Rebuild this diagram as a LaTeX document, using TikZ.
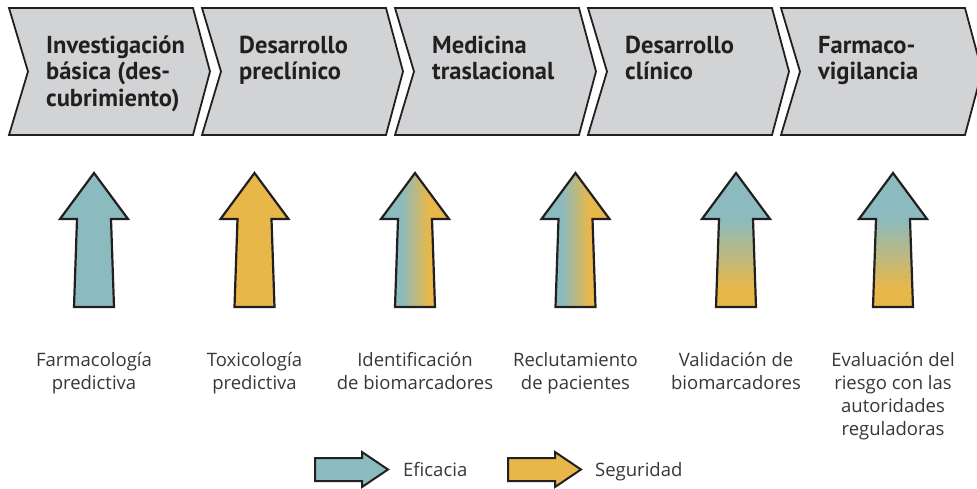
\documentclass[tikz,border=0pt]{standalone}
\usepackage{fontspec}
\setmainfont{Open Sans}
\newfontfamily\headfont{PT Sans}

\definecolor{efteal}{RGB}{139,187,190}
\definecolor{sggold}{RGB}{232,183,74}
\definecolor{stagegray}{RGB}{209,211,212}
\definecolor{inkdark}{RGB}{35,31,32}
\definecolor{labelgray}{RGB}{55,55,55}

\pgfdeclarehorizontalshading{tealonly}{100bp}{color(0bp)=(efteal); color(100bp)=(efteal)}
\pgfdeclarehorizontalshading{goldonly}{100bp}{color(0bp)=(sggold); color(100bp)=(sggold)}
\pgfdeclarehorizontalshading{tealgold}{100bp}{color(0bp)=(efteal); color(40bp)=(efteal);
  color(60bp)=(sggold); color(100bp)=(sggold)}
\pgfdeclareverticalshading{goldteal}{100bp}{color(0bp)=(sggold); color(32bp)=(sggold);
  color(58bp)=(efteal); color(100bp)=(efteal)}

\tikzset{
  stage/.style={draw=inkdark, line width=1.8pt, fill=stagegray, line join=miter},
  stagetext/.style={anchor=base west, align=left, inner sep=0pt, text=inkdark,
    font=\headfont\bfseries\fontsize{24.5}{26.5}\selectfont},
  bigarrow/.style={draw=inkdark, line width=2.2pt, line join=miter},
  tasktext/.style={anchor=base, align=center, inner sep=0pt, text=labelgray,
    font=\fontsize{18.5}{23.3}\selectfont},
  legendtext/.style={anchor=base west, inner sep=0pt, text=labelgray,
    font=\fontsize{18.5}{20}\selectfont},
}

\begin{document}
\begin{tikzpicture}[x=1pt, y=-1pt]
  \useasboundingbox (0,0) rectangle (977,488);
  % -- stages (\nl = number of lines, the node sits on its last baseline)
  \foreach\k/\nl/\txt in {0/3/{Investigación\\básica (des-\\cubrimiento)},
                          1/2/{Desarrollo\\preclínico},
                          2/2/{Medicina\\traslacional},
                          3/2/{Desarrollo\\clínico},
                          4/2/{Farmaco-\\vigilancia}} {
    \pgfmathsetmacro\x{9 + 193 * \k}
    \pgfmathsetmacro\y{53 + 26.5 * (\nl - 1)}
    \draw[stage] (\x, 8) -- ++(184, 0) -- ++(17, 63.5) -- ++(-17, 63.5) --
        ++(-184, 0) -- ++(19, -63.5) -- cycle;
    \node[stagetext] (s\k) at (\x + 37, \y) {\txt};
  }

  % -- arrows and what they stand for
  \foreach\i/\c/\sh/\nl/\txt in {1/94/tealonly/2/{Farmacología\\predictiva},
                                 2/254.5/goldonly/2/{Toxicología\\predictiva},
                                 3/415/tealgold/2/{Identificación\\de biomarcadores},
                                 4/575.5/tealgold/2/{Reclutamiento\\de pacientes},
                                 5/736/goldteal/2/{Validación de\\biomarcadores},
                                 6/893/goldteal/4/{Evaluación del\\riesgo con las\\autoridades\\reguladoras}} {
    \pgfmathsetmacro\y{366 + 23.3 * (\nl - 1)}
    \shade[bigarrow, shading=\sh] (\c - 20, 307) -- (\c - 17, 219) -- (\c - 34, 219) --
        (\c, 173) -- (\c + 34, 219) -- (\c + 17, 219) -- (\c + 20, 307) -- cycle;
    \node[tasktext] (t\i) at (\c, \y) {\txt};
  }

  % -- legend
  \shade[bigarrow, line width=2pt, shading=tealonly] (315, 458) -- ++(47, 0) -- ++(0, -6) --
      ++(26, 17.5) -- ++(-26, 17.5) -- ++(0, -6) -- ++(-47, 0) -- cycle;
  \node[legendtext] (eff) at (403, 476) {Eficacia};
  \shade[bigarrow, line width=2pt, shading=goldonly] (508, 458) -- ++(47, 0) -- ++(0, -6) --
      ++(26, 17.5) -- ++(-26, 17.5) -- ++(0, -6) -- ++(-47, 0) -- cycle;
  \node[legendtext] (seg) at (595, 476) {Seguridad};

\end{tikzpicture}
\end{document}
